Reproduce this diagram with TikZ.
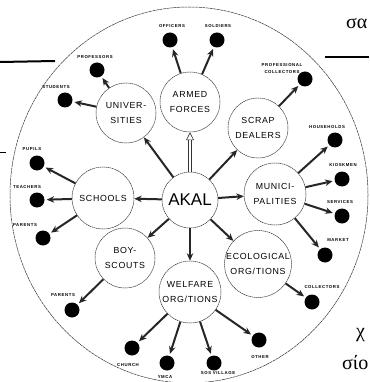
\documentclass[tikz,border=0pt]{standalone}
\usepackage{fontspec}
\setmainfont{Liberation Sans}
\newfontfamily\circfont[LetterSpace=8]{Liberation Sans}
\newfontfamily\lblfont[LetterSpace=14]{Liberation Sans}
\newfontfamily\grfont{Liberation Serif}
\usetikzlibrary{arrows.meta}

\begin{document}
\begin{tikzpicture}[x=1pt, y=-1pt,
  circ/.style={circle, draw=black!80, line width=0.5pt, dash pattern=on 1.6pt off 0.5pt,
               minimum size=60pt, inner sep=0pt, align=center,
               font=\circfont\fontsize{8.8}{15}\selectfont},
  dot/.style={circle, fill=black, minimum size=15pt, inner sep=0pt},
  lab/.style={font=\lblfont\bfseries\fontsize{4.3}{7}\selectfont, inner sep=0pt, align=center},
  arr/.style={-{Stealth[length=7.5pt, width=6.5pt]}, draw=black!85, line width=2pt},
  darr/.style={arr, shorten >=2pt},
  hollow/.style={draw=black!80, line width=0.6pt, double=white, double distance=2.2pt,
                 -{Triangle[open, length=8pt, width=8pt]}},
  gr/.style={font=\grfont\fontsize{20}{24}\selectfont, inner sep=0pt}
]
\useasboundingbox (0,0) rectangle (369,382);

% page fragments of the scan
\node[gr, anchor=base west] (sa) at (346,29) {σα};
\node[gr, anchor=base west] (chi) at (356,337) {χ};
\node[gr, anchor=base west] (sio) at (342,369) {σίο};
\draw[line width=2pt] (0,62) -- (55,61);
\draw[line width=1.8pt] (325,57) -- (369,57);
\draw[line width=1pt] (0,152) -- (6,152);

% outer ring
\draw[black!80, line width=0.5pt, dash pattern=on 3pt off 0.6pt] (189,195) ellipse [x radius=179, y radius=188];

% centre and the eight groups
\node[circ, minimum size=56pt, font=\fontsize{17}{18}\selectfont] (akal) at (190,200) {AKAL};
\node[circ] (armed)   at (190,102) {ARMED\\FORCES};
\node[circ] (univ)    at (126,113) {UNIVER-\\SITIES};
\node[circ] (scrap)   at (258,128) {SCRAP\\DEALERS};
\node[circ, minimum size=62pt] (munic) at (275,194) {MUNICI-\\PALITIES};
\node[circ] (ecol)    at (258,264) {ECOLOGICAL\\ORG/TIONS};
\node[circ, minimum size=62pt] (welfare) at (190,292) {WELFARE\\ORG/TIONS};
\node[circ] (scouts)  at (125,258) {BOY-\\SCOUTS};
\node[circ, minimum size=62pt] (schools) at (103,198) {SCHOOLS};

% target groups
\node[dot] (officers)   at (170,40) {};
\node[dot] (soldiers)   at (217,40) {};
\node[dot] (professors) at (97,70) {};
\node[dot] (students)   at (65,100) {};
\node[dot] (profcoll)   at (305,79) {};
\node[dot] (households) at (335,140) {};
\node[dot] (kiosk)      at (342,179) {};
\node[dot] (services)   at (342,216) {};
\node[dot] (market)     at (325,255) {};
\node[dot] (collectors) at (312,302) {};
\node[dot] (other)      at (259,340) {};
\node[dot] (sos)        at (214,363) {};
\node[dot] (ymca)       at (167,363) {};
\node[dot] (church)     at (132,348) {};
\node[dot] (bsparents)  at (72,310) {};
\node[dot] (pupils)     at (37,163) {};
\node[dot] (teachers)   at (37,200) {};
\node[dot] (parents)    at (43,238) {};

\node[lab] (l-officers)   at (172,26) {OFFICERS};
\node[lab] (l-soldiers)   at (218,26) {SOLDIERS};
\node[lab] (l-professors) at (95,57) {PROFESSORS};
\node[lab] (l-students)   at (56,87) {STUDENTS};
\node[lab] (l-profcoll)   at (282,69) {PROFESSIONAL\\COLLECTORS};
\node[lab] (l-households) at (327,127) {HOUSEHOLDS};
\node[lab] (l-kiosk)      at (343,165) {KIOSKMEN};
\node[lab] (l-services)   at (340,202) {SERVICES};
\node[lab] (l-market)     at (338,240) {MARKET};
\node[lab] (l-collectors) at (322,287) {COLLECTORS};
\node[lab] (l-other)      at (260,357) {OTHER};
\node[lab] (l-sos)        at (218,373) {SOS VILLAGE};
\node[lab] (l-ymca)       at (165,377) {YMCA};
\node[lab] (l-church)     at (128,365) {CHURCH};
\node[lab] (l-bsparents)  at (63,295) {PARENTS};
\node[lab] (l-pupils)     at (32,149) {PUPILS};
\node[lab] (l-teachers)   at (27,187) {TEACHERS};
\node[lab] (l-parents)    at (25,225) {PARENTS};

% AKAL to the groups
\draw[hollow] (akal) -- (armed);
\foreach \g in {univ,scrap,munic,ecol,welfare,scouts,schools} {
  \draw[arr] (akal) -- (\g);
}

% groups to their targets
\foreach \a/\b in {armed/officers, armed/soldiers, univ/professors, univ/students,
                   scrap/profcoll, munic/households, munic/kiosk, munic/services,
                   munic/market, ecol/collectors, welfare/other, welfare/sos,
                   welfare/ymca, welfare/church, scouts/bsparents, schools/pupils,
                   schools/teachers, schools/parents} {
  \draw[darr] (\a) -- (\b);
}
\end{tikzpicture}
\end{document}
